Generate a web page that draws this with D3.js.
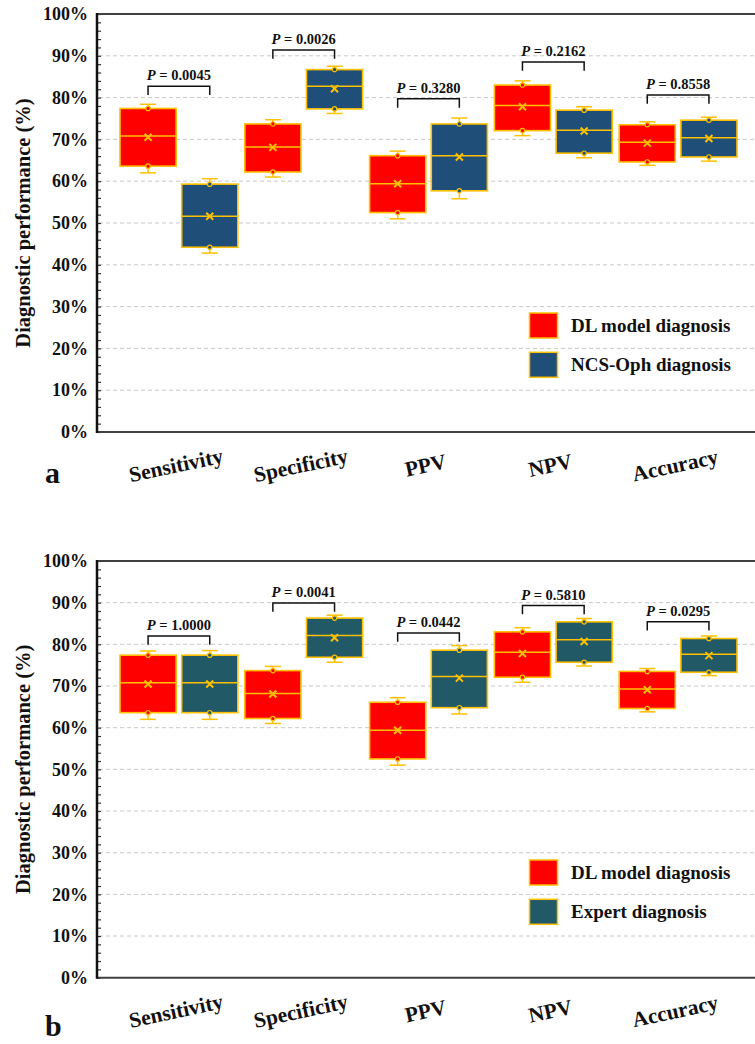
<!DOCTYPE html>
<html>
<head>
<meta charset="utf-8">
<script src="https://cdn.jsdelivr.net/npm/d3@7"></script>
<style>
  body { margin: 0; background: #fff; }
  svg text { font-family: "Liberation Serif", "Times New Roman", serif; font-weight: bold; }
</style>
</head>
<body>
<svg width="755" height="1044"></svg>
<script>
// categories on the x axis
var categories = ["Sensitivity", "Specificity", "PPV", "NPV", "Accuracy"];
var yTicks = [0, 10, 20, 30, 40, 50, 60, 70, 80, 90, 100];

// DL model diagnosis (same in both panels)
var dlMin    = [62.0, 61.0, 51.0, 70.9, 63.8];
var dlQ1     = [63.6, 62.2, 52.5, 72.1, 64.6];
var dlMedian = [70.8, 68.2, 59.4, 78.1, 69.3];
var dlQ3     = [77.4, 73.7, 66.1, 83.0, 73.5];
var dlMax    = [78.4, 74.7, 67.2, 84.0, 74.2];
var dlMean   = [70.5, 68.1, 59.4, 77.8, 69.1];

// NCS-Oph diagnosis (panel a)
var ncsMin    = [42.8, 76.2, 55.8, 65.6, 64.8];
var ncsQ1     = [44.2, 77.3, 57.7, 66.7, 65.8];
var ncsMedian = [51.6, 82.7, 66.1, 72.2, 70.4];
var ncsQ3     = [59.3, 86.7, 73.7, 77.0, 74.6];
var ncsMax    = [60.6, 87.5, 75.1, 77.8, 75.3];
var ncsMean   = [51.6, 82.1, 65.8, 72.0, 70.2];

// Expert diagnosis (panel b)
var expMin    = [62.0, 75.7, 63.3, 74.8, 72.5];
var expQ1     = [63.6, 76.9, 64.8, 75.7, 73.3];
var expMedian = [70.8, 82.1, 72.3, 81.1, 77.6];
var expQ3     = [77.4, 86.3, 78.6, 85.4, 81.4];
var expMax    = [78.5, 87.0, 79.7, 86.2, 82.0];
var expMean   = [70.5, 81.6, 71.9, 80.7, 77.3];

// P values and bracket heights (%)
var pA = ["0.0045", "0.0026", "0.3280", "0.2162", "0.8558"];
var bracketA = [82.7, 91.4, 79.7, 88.5, 80.6];
var pB = ["1.0000", "0.0041", "0.0442", "0.5810", "0.0295"];
var bracketB = [82.0, 89.9, 82.7, 89.3, 85.4];

var gold = "#FFC000";
var red = "#FF0000";

var svg = d3.select("svg");

function series(min, q1, med, q3, max, mean) {
  return categories.map(function(c, i) {
    return {cat: c, min: min[i], q1: q1[i], median: med[i], q3: q3[i], max: max[i], mean: mean[i]};
  });
}

var x = d3.scaleBand()
    .domain(categories)
    .range([116.5, 740.5])
    .paddingInner(0.056)
    .paddingOuter(0.028);

var xs = d3.scaleBand()
    .domain(["dl", "other"])
    .range([0, x.bandwidth()])
    .paddingInner(0.09);

function drawPanel(opt) {
  var left = 97, right = 760;
  var y = d3.scaleLinear().domain([0, 100]).range([opt.bottom, opt.top]);
  var g = svg.append("g");

  // grid
  g.selectAll(".grid")
      .data(yTicks.filter(function(d) { return d > 0 && d < 100; }))
    .enter().append("line")
      .attr("x1", left + 2).attr("x2", right)
      .attr("y1", function(d) { return y(d); })
      .attr("y2", function(d) { return y(d); })
      .attr("stroke", "#c8c8c8")
      .attr("stroke-width", 1)
      .attr("stroke-dasharray", "4,3");

  // minor ticks (inside)
  g.append("g")
      .attr("transform", "translate(" + left + ",0)")
      .call(d3.axisRight(y).ticks(50).tickSize(4).tickFormat(""))
      .call(function(a) {
        a.select(".domain").remove();
        a.selectAll("line").attr("stroke", "#333").attr("stroke-width", 1.2);
      });

  // y axis labels
  g.append("g")
      .attr("transform", "translate(" + left + ",0)")
      .call(d3.axisLeft(y).tickValues(yTicks).tickSize(0).tickPadding(9)
        .tickFormat(function(d) { return d + "%"; }))
      .call(function(a) {
        a.select(".domain").remove();
        a.selectAll("text")
          .attr("font-family", "Liberation Serif")
          .attr("font-weight", "bold")
          .attr("font-size", 18)
          .attr("fill", "#111");
      });

  // frame lines
  g.append("line").attr("x1", left).attr("x2", right)
      .attr("y1", opt.top).attr("y2", opt.top)
      .attr("stroke", "#404040").attr("stroke-width", 2);
  g.append("line").attr("x1", left).attr("x2", right)
      .attr("y1", opt.bottom).attr("y2", opt.bottom)
      .attr("stroke", "#404040").attr("stroke-width", 2);
  g.append("line").attr("x1", left).attr("x2", left)
      .attr("y1", opt.top - 1).attr("y2", opt.bottom + 1)
      .attr("stroke", "#111").attr("stroke-width", 2.5);

  // boxes
  var groups = [
    {key: "dl", color: red, data: opt.dl},
    {key: "other", color: opt.otherColor, data: opt.other}
  ];
  groups.forEach(function(s) {
    var bx = g.selectAll(".box-" + s.key)
        .data(s.data)
      .enter().append("g")
        .attr("transform", function(d) { return "translate(" + (x(d.cat) + xs(s.key)) + ",0)"; });
    var w = xs.bandwidth(), cx = w / 2, cap = 8;

    // whiskers
    bx.append("line")
        .attr("x1", cx).attr("x2", cx)
        .attr("y1", function(d) { return y(d.max); })
        .attr("y2", function(d) { return y(d.q3); })
        .attr("stroke", gold).attr("stroke-width", 1.5);
    bx.append("line")
        .attr("x1", cx).attr("x2", cx)
        .attr("y1", function(d) { return y(d.q1); })
        .attr("y2", function(d) { return y(d.min); })
        .attr("stroke", gold).attr("stroke-width", 1.5);
    bx.append("line")
        .attr("x1", cx - cap).attr("x2", cx + cap)
        .attr("y1", function(d) { return y(d.max); })
        .attr("y2", function(d) { return y(d.max); })
        .attr("stroke", gold).attr("stroke-width", 1.5);
    bx.append("line")
        .attr("x1", cx - cap).attr("x2", cx + cap)
        .attr("y1", function(d) { return y(d.min); })
        .attr("y2", function(d) { return y(d.min); })
        .attr("stroke", gold).attr("stroke-width", 1.5);

    bx.append("rect")
        .attr("x", 0).attr("width", w)
        .attr("y", function(d) { return y(d.q3); })
        .attr("height", function(d) { return y(d.q1) - y(d.q3); })
        .attr("fill", s.color)
        .attr("stroke", gold).attr("stroke-width", 1.6);

    bx.append("line")
        .attr("x1", 0).attr("x2", w)
        .attr("y1", function(d) { return y(d.median); })
        .attr("y2", function(d) { return y(d.median); })
        .attr("stroke", gold).attr("stroke-width", 1.5);

    // inner points
    ["q1", "q3"].forEach(function(k) {
      bx.append("circle")
          .attr("cx", cx)
          .attr("cy", function(d) { return y(d[k]); })
          .attr("r", 2.2)
          .attr("fill", s.color)
          .attr("stroke", gold).attr("stroke-width", 1.2);
    });

    // mean marker
    bx.append("path")
        .attr("d", function(d) {
          var my = y(d.mean), r = 3.5;
          return "M" + (cx - r) + "," + (my - r) + "L" + (cx + r) + "," + (my + r) +
                 "M" + (cx - r) + "," + (my + r) + "L" + (cx + r) + "," + (my - r);
        })
        .attr("stroke", gold).attr("stroke-width", 2).attr("fill", "none");
  });

  // P value brackets
  var drop = y(0) - y(2.1);
  categories.forEach(function(c, i) {
    var x1 = x(c) + xs("dl") + xs.bandwidth() / 2;
    var x2 = x(c) + xs("other") + xs.bandwidth() / 2;
    var by = y(opt.bracket[i]);
    g.append("path")
        .attr("d", "M" + x1 + "," + (by + drop) + "V" + by + "H" + x2 + "V" + (by + drop))
        .attr("fill", "none").attr("stroke", "#111").attr("stroke-width", 1.5);
    var t = g.append("text")
        .attr("x", (x1 + x2) / 2)
        .attr("y", by - 6)
        .attr("text-anchor", "middle")
        .attr("font-size", 14.5)
        .attr("fill", "#111");
    t.append("tspan").attr("font-style", "italic").text("P");
    t.append("tspan").text(" = " + opt.p[i]);
  });

  // x labels
  g.selectAll(".xlab")
      .data(categories)
    .enter().append("text")
      .attr("transform", function(d) {
        return "translate(" + (x(d) + x.bandwidth() / 2 - 3) + "," + (opt.bottom + 33) + ") rotate(-12)";
      })
      .attr("text-anchor", "middle")
      .attr("dy", "0.35em")
      .attr("font-size", 21.5)
      .attr("fill", "#111")
      .text(function(d) { return d; });

  // y title
  g.append("text")
      .attr("transform", "translate(23," + ((opt.top + opt.bottom) / 2) + ") rotate(-90)")
      .attr("text-anchor", "middle")
      .attr("dy", "0.35em")
      .attr("font-size", 20.5)
      .attr("fill", "#111")
      .text("Diagnostic performance (%)");

  // legend
  var legend = [
    {label: "DL model diagnosis", color: red},
    {label: opt.otherLabel, color: opt.otherColor}
  ];
  legend.forEach(function(l, i) {
    var ly = opt.top + 299 + i * 39.3;
    g.append("rect")
        .attr("x", 529.5).attr("y", ly)
        .attr("width", 28).attr("height", 25)
        .attr("fill", l.color)
        .attr("stroke", gold).attr("stroke-width", 1.5);
    g.append("text")
        .attr("x", 571).attr("y", ly + 18.5)
        .attr("font-size", 19)
        .attr("fill", "#111")
        .text(l.label);
  });

  // panel letter
  g.append("text")
      .attr("x", 45).attr("y", opt.letterY)
      .attr("font-size", 30)
      .attr("fill", "#111")
      .text(opt.letter);
}

drawPanel({
  top: 14, bottom: 432,
  dl: series(dlMin, dlQ1, dlMedian, dlQ3, dlMax, dlMean),
  other: series(ncsMin, ncsQ1, ncsMedian, ncsQ3, ncsMax, ncsMean),
  otherColor: "#1F4E79",
  otherLabel: "NCS-Oph diagnosis",
  p: pA, bracket: bracketA,
  letter: "a", letterY: 483
});

drawPanel({
  top: 561, bottom: 977.7,
  dl: series(dlMin, dlQ1, dlMedian, dlQ3, dlMax, dlMean),
  other: series(expMin, expQ1, expMedian, expQ3, expMax, expMean),
  otherColor: "#215967",
  otherLabel: "Expert diagnosis",
  p: pB, bracket: bracketB,
  letter: "b", letterY: 1036
});
</script>
</body>
</html>
